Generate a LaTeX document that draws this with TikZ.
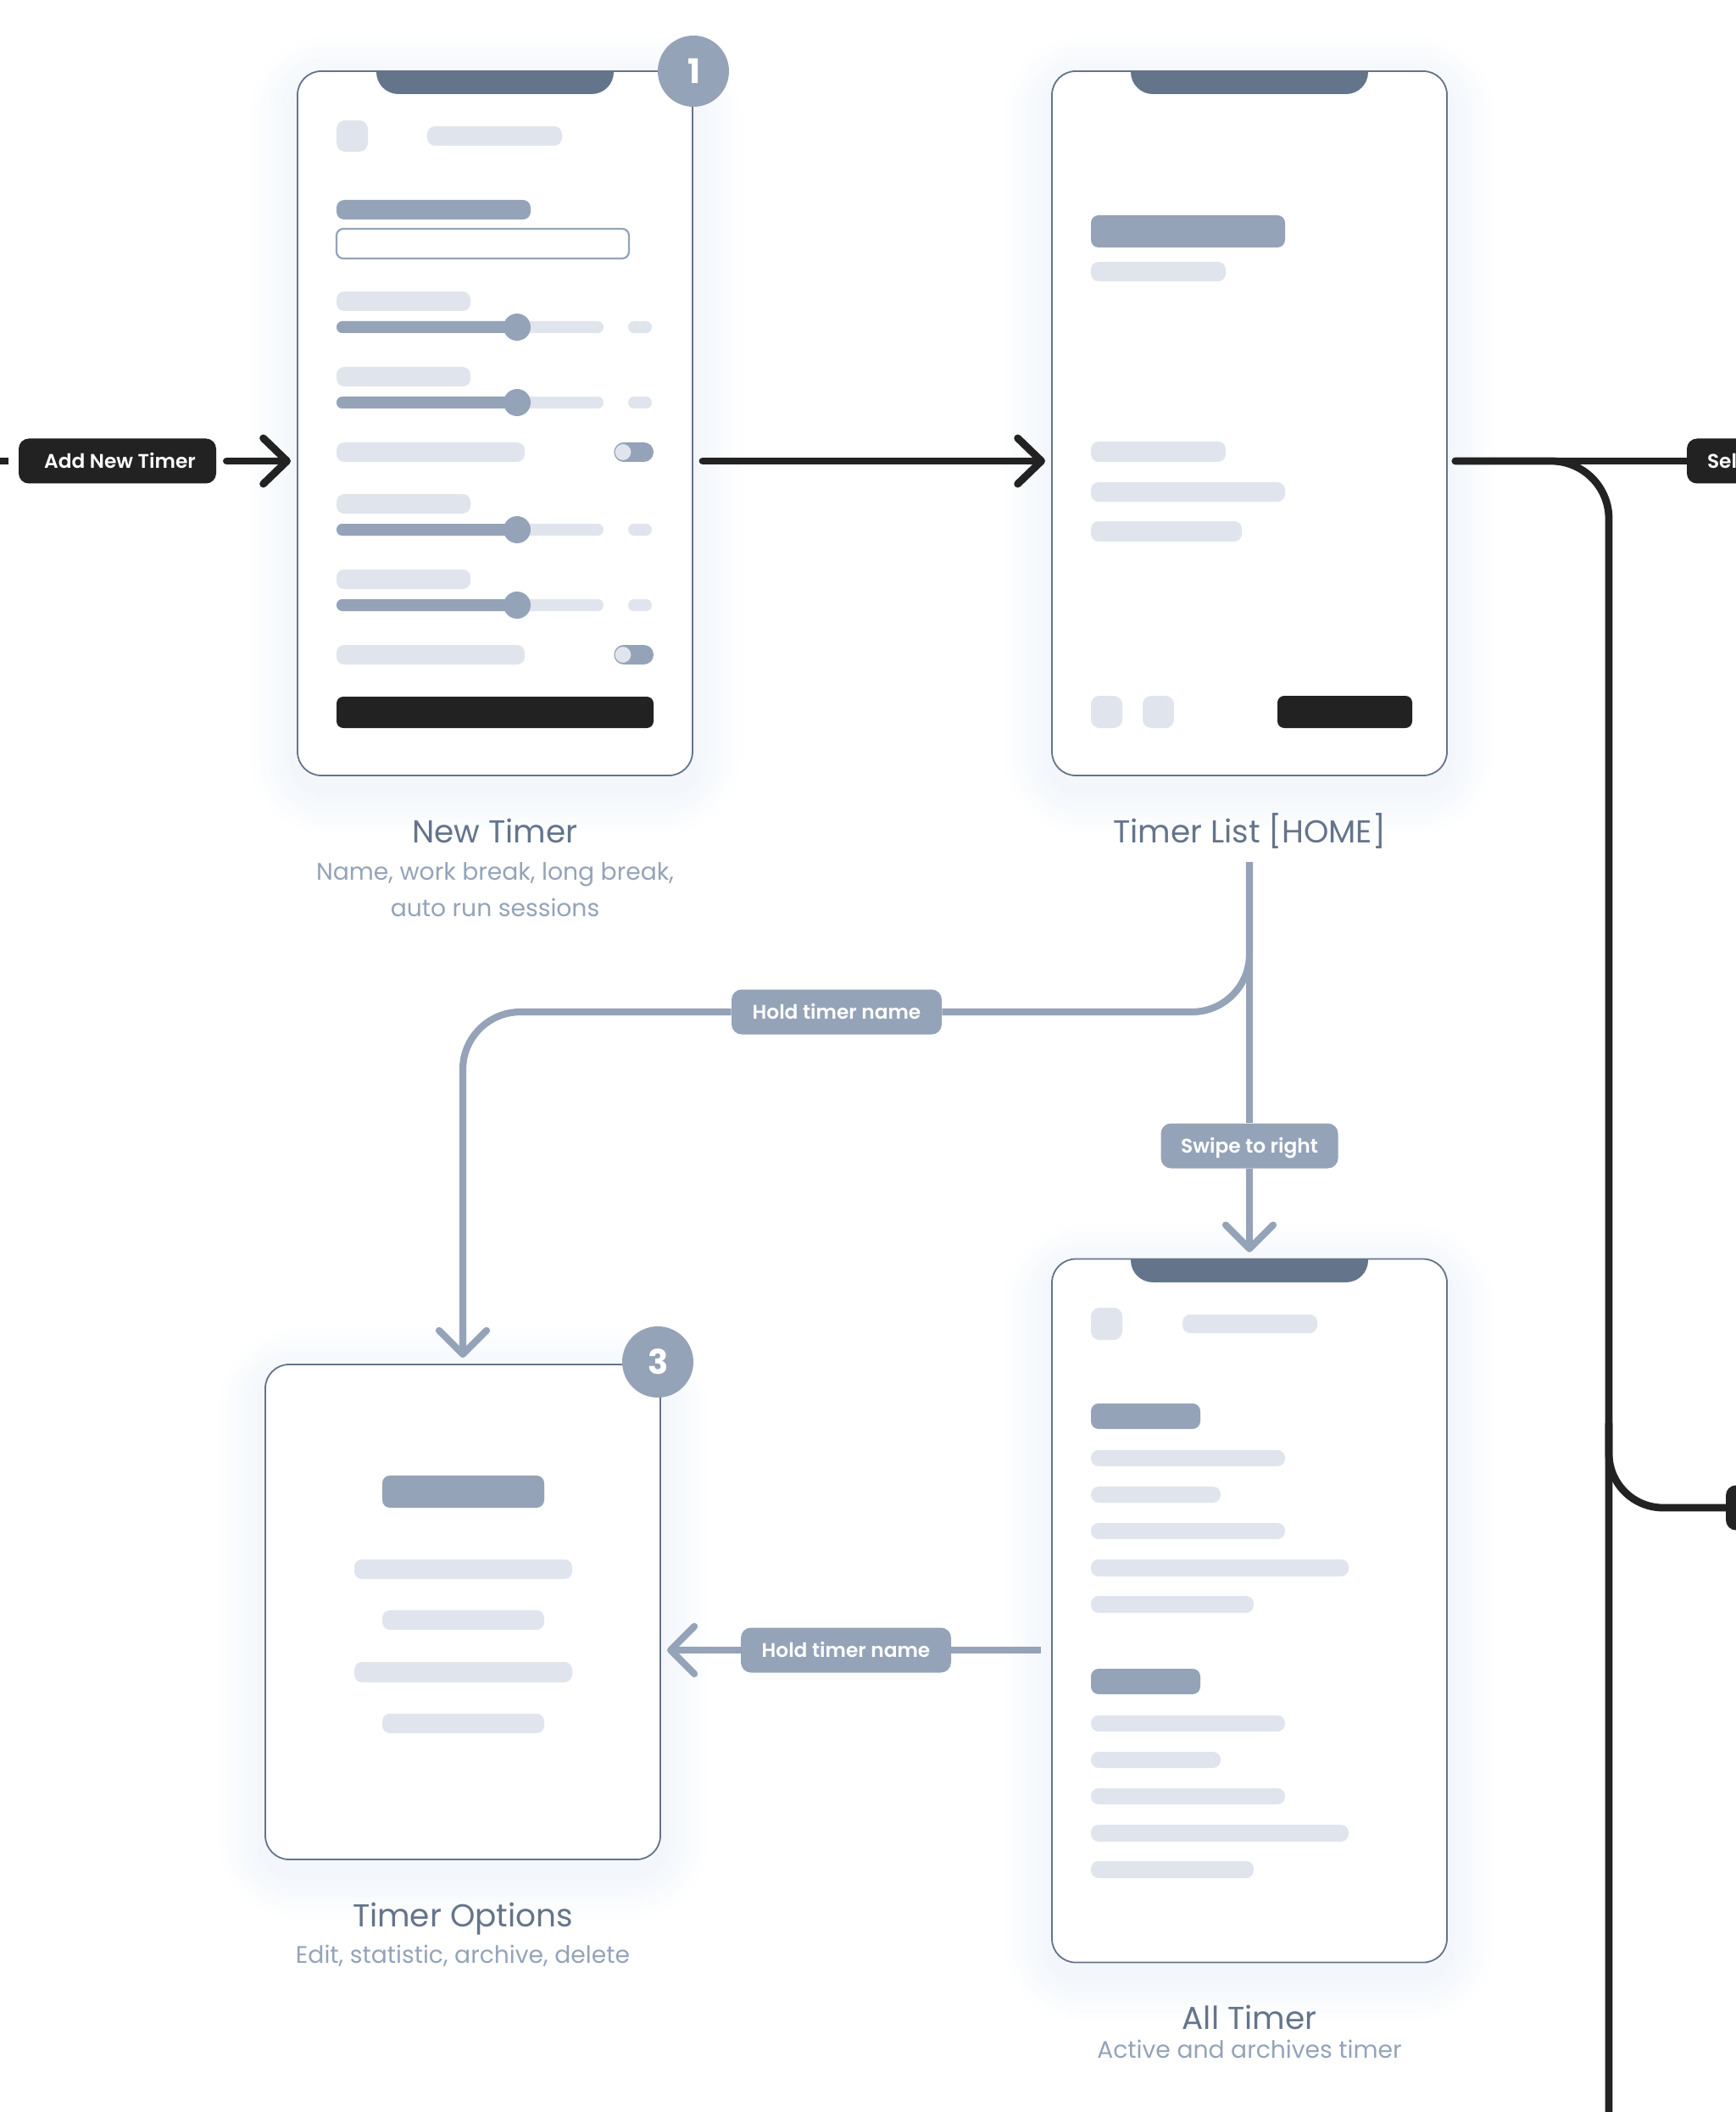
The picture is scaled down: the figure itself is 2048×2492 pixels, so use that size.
\documentclass[tikz,border=0pt]{standalone}
\usepackage{fontspec}
\setmainfont{Poppins}
\newfontfamily\mediumfont{Poppins SemiBold}
\usetikzlibrary{arrows.meta}
\definecolor{slatedark}{HTML}{64748B}
\definecolor{slatemid}{HTML}{94A3B8}
\definecolor{slatelight}{HTML}{E0E5ED}
\definecolor{inkdark}{HTML}{222222}
\definecolor{glowblue}{HTML}{DCE8F5}
\tikzset{
  barb/.tip={Straight Barb[length=14pt,width=27pt,round]},
  graybarb/.tip={Straight Barb[length=14pt,width=28pt,round]},
  screen/.style={draw=slatedark, line width=.9pt, fill=white, rounded corners=14pt, minimum width=233pt, inner sep=0pt, outer sep=4pt},
  flowlabel/.style={rounded corners=6pt, minimum height=26.5pt, inner sep=0pt, text=white, text height=8.3pt, text depth=0pt, font=\mediumfont\fontsize{11.65}{14}\selectfont},
  darklabel/.style={flowlabel, fill=inkdark},
  graylabel/.style={flowlabel, fill=slatemid},
  flowdark/.style={draw=inkdark, line width=4.4pt, line cap=round},
  flowgray/.style={draw=slatemid, line width=4.1pt},
  badge/.style={circle, fill=slatemid, minimum size=42pt, inner sep=0pt, text=white, font=\bfseries\fontsize{20}{22}\selectfont},
  captitle/.style={text=slatedark, font=\fontsize{18.7}{22}\selectfont, inner sep=0pt, text height=13pt, text depth=0pt},
  capsub/.style={text=slatemid, font=\fontsize{14.1}{17}\selectfont, inner sep=0pt, text height=9.8pt, text depth=0pt},
  bar/.style={fill=slatelight, rounded corners=4.5pt},
  midbar/.style={fill=slatemid, rounded corners=4.5pt},
  inkbar/.style={fill=inkdark, rounded corners=4pt},
}
% screen with its soft glow: name, x, y, height
\newcommand{\screenbox}[4]{
  \foreach \g in {4,8,...,56}
    \fill[glowblue, opacity=.03, rounded corners=14pt+.6pt*\g] (#2-233-\g,#3-#4/2-\g+14) rectangle (#2+233+\g,#3+#4/2+\g+14);
  \node[screen, minimum height=#4*.5pt] (#1) at (#2,#3) {};
}
\newcommand{\notchbar}[1]{
  \fill[slatedark] (#1-140,84) [rounded corners=13pt] -- (#1-140,111) -- (#1+140,111) [sharp corners] -- (#1+140,84) -- cycle;
}
\newcommand{\sliderrow}[1]{
  \fill[bar] (397,#1-42) rectangle (555,#1-19);
  \fill[fill=slatelight, rounded corners=3.4pt] (397,#1-7) rectangle (712,#1+7);
  \fill[fill=slatemid, rounded corners=3.4pt] (397,#1-7) rectangle (612,#1+7);
  \fill[slatemid] (610,#1) circle (8pt);
  \fill[fill=slatelight, rounded corners=3.4pt] (741,#1-7) rectangle (769,#1+7);
}
\newcommand{\togglerow}[1]{
  \fill[bar] (397,#1-11.5) rectangle (619,#1+11.5);
  \fill[slatemid, rounded corners=5.7pt] (724.5,#1-11.5) rectangle (771,#1+11.5);
  \draw[fill=slatelight, draw=slatemid, line width=.5pt] (735,#1) circle (5pt);
}
\begin{document}
\begin{tikzpicture}[x=.5pt,y=-.5pt]
  \useasboundingbox (0,0) rectangle (2048,2492);
  \clip (0,0) rectangle (2048,2492);
  % screens
  \screenbox{newtimer}{584}{499.5}{831}
  \screenbox{timerlist}{1474}{499.5}{831}
  \screenbox{alltimer}{1474}{1900.5}{830}
  \screenbox{options}{546}{1902}{584}
  % new timer
  \notchbar{584}
  \fill[fill=slatelight, rounded corners=5pt] (397,142) rectangle (434,179);
  \fill[bar] (504,149) rectangle (663,172);
  \fill[midbar] (397,236) rectangle (626,259);
  \draw[draw=slatemid, fill=white, line width=1.1pt, rounded corners=4pt] (397,270) rectangle (742,305);
  \sliderrow{386}
  \sliderrow{475}
  \togglerow{533.5}
  \sliderrow{625}
  \sliderrow{714}
  \togglerow{772.5}
  \fill[inkbar] (397,822) rectangle (771,859);
  % timer list
  \notchbar{1474}
  \fill[midbar] (1287,254) rectangle (1516,292);
  \fill[bar] (1287,309) rectangle (1446,332);
  \fill[bar] (1287,521) rectangle (1446,545);
  \fill[bar] (1287,569) rectangle (1516,592);
  \fill[bar] (1287,615) rectangle (1465,639);
  \fill[fill=slatelight, rounded corners=5pt] (1287,821) rectangle (1324,859);
  \fill[fill=slatelight, rounded corners=5pt] (1348,821) rectangle (1385,859);
  \fill[inkbar] (1507,821) rectangle (1666,859);
  % all timer
  \fill[slatedark] (1334,1486) [rounded corners=13pt] -- (1334,1513) -- (1614,1513) [sharp corners] -- (1614,1486) -- cycle;
  \fill[fill=slatelight, rounded corners=5pt] (1287,1543) rectangle (1324,1581);
  \fill[bar] (1395,1551) rectangle (1554,1573);
  \foreach \dy in {0,313} {
    \fill[midbar] (1287,1656+\dy) rectangle (1416,1686+\dy);
    \fill[bar] (1287,1711+\dy) rectangle (1516,1730+\dy);
    \fill[bar] (1287,1754+\dy) rectangle (1440,1773+\dy);
    \fill[bar] (1287,1797+\dy) rectangle (1516,1816+\dy);
    \fill[bar] (1287,1840+\dy) rectangle (1591,1860+\dy);
    \fill[bar] (1287,1883+\dy) rectangle (1479,1903+\dy);
  }
  % timer options
  \fill[midbar] (451,1741) rectangle (642,1779);
  \fill[bar] (418,1840) rectangle (675,1863);
  \fill[bar] (451,1900) rectangle (642,1923);
  \fill[bar] (418,1961) rectangle (675,1985);
  \fill[bar] (451,2022) rectangle (642,2045);
  % badges
  \node[badge] (badgeone) at (818,84) {\hspace{1.5pt}1};
  \node[badge] (badgethree) at (776,1607) {\hspace{1pt}3};
  % captions
  \node[captitle] (capnew) at (584,981) {New Timer};
  \node[capsub] (capnewa) at (584,1029) {Name, work break, long break,};
  \node[capsub] (capnewb) at (584,1072) {auto run sessions};
  \node[captitle] (caplist) at (1474,981) {Timer List [HOME]};
  \node[captitle] (capoptions) at (546,2260) {Timer Options};
  \node[capsub] (capoptionsa) at (546,2307) {Edit, statistic, archive, delete};
  \node[captitle] (capall) at (1474,2381) {All Timer};
  \node[capsub] (capalla) at (1474,2419) {Active and archives timer};
  % labels
  \node[darklabel, minimum width=116.5pt] (addnew) at (138.5,544) {\hspace{3pt}Add New Timer};
  \node[darklabel, text width=81pt, inner xsep=12pt, align=left] (selecttimer) at (2095,544) {Sel};
  \node[darklabel, minimum width=100pt] (nextstep) at (2136,1779) {};
  \node[graylabel, minimum width=124pt] (holdtop) at (987,1194) {Hold timer name};
  \node[graylabel, minimum width=104.5pt] (swipe) at (1474,1352) {Swipe to right};
  \node[graylabel, minimum width=124pt] (holdall) at (998,1947) {Hold timer name};
  \coordinate (inbound) at (0,544);
  \coordinate (listout) at (1474,1017);
  \coordinate (trunkfork) at (1898,1680);
  \coordinate (trunkend) at (1898,2520);
  % dark connectors
  \draw[flowdark, line cap=butt, shorten >=6pt] (inbound) -- (addnew.west);
  \draw[flowdark, shorten <=6pt, -{barb}] (addnew) -- (addnew -| newtimer.west);
  \draw[flowdark, shorten <=2pt, -{barb}] (newtimer.east |- addnew) -- (addnew -| timerlist.west);
  \draw[flowdark, shorten <=1pt] (timerlist.east |- addnew) -- (selecttimer);
  \draw[flowdark, shorten <=1pt, rounded corners=34pt] (timerlist.east |- addnew) -| (trunkend);
  \draw[flowdark, rounded corners=32pt] (trunkfork) |- (nextstep);
  % gray connectors
  \draw[flowgray] (listout) -- (swipe);
  \draw[flowgray, -{graybarb}] (swipe) -- (alltimer.north);
  \draw[flowgray, rounded corners=34pt] (listout) |- (holdtop);
  \draw[flowgray, rounded corners=34pt, -{graybarb}] (holdtop) -| (options.north);
  \draw[flowgray] (holdall -| alltimer.west) ++(-5,0) -- (holdall);
  \draw[flowgray, -{graybarb}] (holdall) -- (holdall -| options.east);
\end{tikzpicture}
\end{document}
